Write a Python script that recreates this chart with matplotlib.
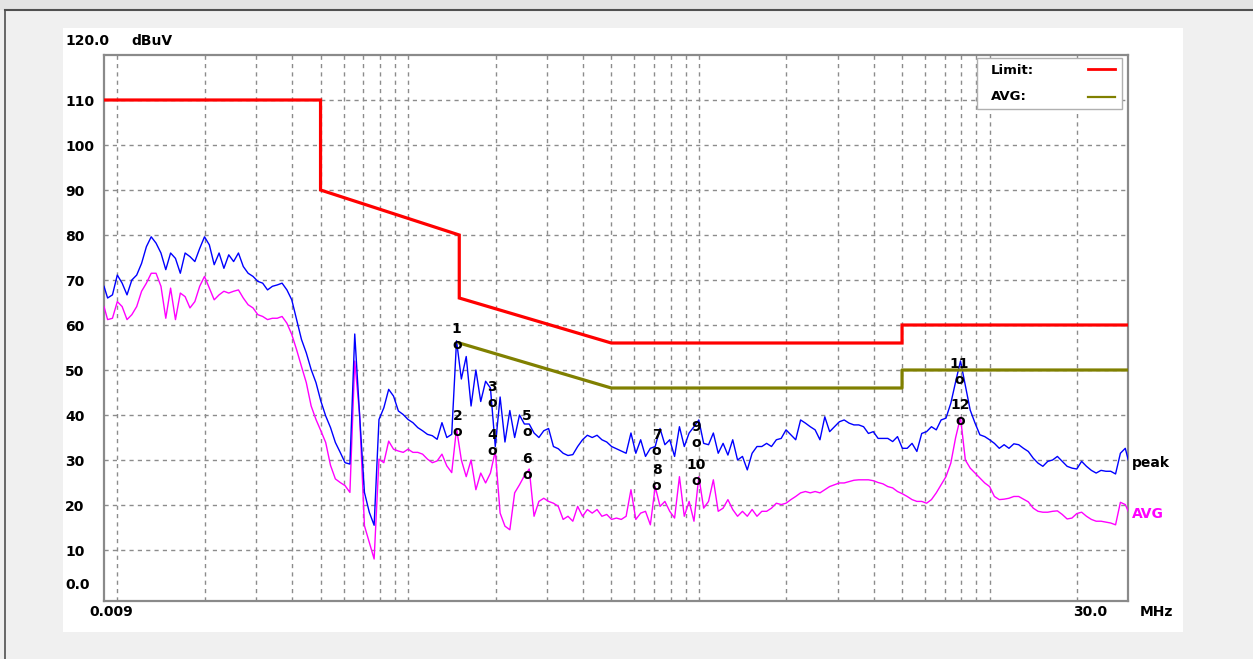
import matplotlib
matplotlib.use("Agg")
import matplotlib.pyplot as plt
from matplotlib.patches import Rectangle
from matplotlib.lines import Line2D
from matplotlib.ticker import NullLocator

# ---------------- data ----------------
freq_mhz = [0.009, 0.009261, 0.009624,
    0.01, 0.01039, 0.0108, 0.01122, 0.01166, 0.01212, 0.01259, 0.01308, 0.01359, 0.01413,
    0.01468, 0.01525, 0.01585, 0.01647, 0.01711, 0.01778, 0.01848, 0.0192, 0.01995, 0.02073,
    0.02154, 0.02239, 0.02326, 0.02417, 0.02512, 0.0261, 0.02712, 0.02818, 0.02929, 0.03043,
    0.03162, 0.03286, 0.03415, 0.03548, 0.03687, 0.03831, 0.03981, 0.04137, 0.04299, 0.04467,
    0.04642, 0.04823, 0.05012, 0.05208, 0.05412, 0.05623, 0.05843, 0.06072, 0.0631, 0.06556,
    0.06813, 0.07079, 0.07356, 0.07644, 0.07943, 0.08254, 0.08577, 0.08913, 0.09261, 0.09624,
    0.1, 0.1039, 0.108, 0.1122, 0.1166, 0.1212, 0.1259, 0.1308, 0.1359, 0.1413,
    0.1468, 0.1525, 0.1585, 0.1647, 0.1711, 0.1778, 0.1848, 0.192, 0.1995, 0.2073,
    0.2154, 0.2239, 0.2326, 0.2417, 0.2512, 0.261, 0.2712, 0.2818, 0.2929, 0.3043,
    0.3162, 0.3286, 0.3415, 0.3548, 0.3687, 0.3831, 0.3981, 0.4137, 0.4299, 0.4467,
    0.4642, 0.4823, 0.5012, 0.5208, 0.5412, 0.5623, 0.5843, 0.6072, 0.631, 0.6556,
    0.6813, 0.7079, 0.7356, 0.7644, 0.7943, 0.8254, 0.8577, 0.8913, 0.9261, 0.9624,
    1.0, 1.039, 1.08, 1.122, 1.166, 1.212, 1.259, 1.308, 1.359, 1.413,
    1.468, 1.525, 1.585, 1.647, 1.711, 1.778, 1.848, 1.92, 1.995, 2.073,
    2.154, 2.239, 2.326, 2.417, 2.512, 2.61, 2.712, 2.818, 2.929, 3.043,
    3.162, 3.286, 3.415, 3.548, 3.687, 3.831, 3.981, 4.137, 4.299, 4.467,
    4.642, 4.823, 5.012, 5.208, 5.412, 5.623, 5.843, 6.072, 6.31, 6.556,
    6.813, 7.079, 7.356, 7.644, 7.943, 8.254, 8.577, 8.913, 9.261, 9.624,
    10.0, 10.39, 10.8, 11.22, 11.66, 12.12, 12.59, 13.08, 13.59, 14.13,
    14.68, 15.25, 15.85, 16.47, 17.11, 17.78, 18.48, 19.2, 19.95, 20.73,
    21.54, 22.39, 23.26, 24.17, 25.12, 26.1, 27.12, 28.18, 29.29,
    30.0]

peak_dbuv = [68.6, 66, 66.7,
    71.1, 69.3, 66.7, 70, 71.1, 73.7, 77.4, 79.6, 78.2, 76,
    72.3, 76, 74.8, 71.5, 76, 75.2, 74.1, 77, 79.6, 77.8,
    73.4, 76, 72.6, 75.6, 74.1, 76, 73, 71.5, 70.8, 69.7,
    69.3, 67.8, 68.6, 68.9, 69.3, 67.8, 65.6, 61.2, 56.8, 53.8,
    50.1, 47.2, 43.1, 39.8, 37.2, 33.9, 31.7, 29.4, 29.1, 58,
    40, 22.8, 18.4, 15.5, 39, 41.6, 45.7, 44.2, 40.9, 40.1,
    39, 38.3, 37.2, 36.5, 35.7, 35.4, 34.6, 38.3, 35, 35.7,
    56.5, 48, 53, 42, 50, 43, 47.5, 46, 33, 44,
    34, 41, 35, 40, 38, 38, 36, 35, 36.5, 37,
    33, 32.5, 31.5, 31, 31.2, 33, 34.5, 35.5, 35, 35.5,
    34.5, 34, 33, 32.5, 32, 31.5, 36, 31.5, 34.5, 30.8,
    32.6, 33, 37, 33.4, 34.5, 30.8, 37.4, 33, 36, 37.4,
    38.9, 33.7, 33.4, 36, 31.5, 33.7, 31.1, 34.5, 30, 30.8,
    27.8, 31.5, 33, 33, 33.7, 33, 34.5, 34.8, 36.7, 35.6,
    34.5, 38.9, 38.2, 37.4, 36.7, 34.5, 39.6, 36.3, 37.4, 38.5,
    38.9, 38.2, 37.8, 37.8, 37.4, 35.9, 36.3, 34.8, 34.8, 34.8,
    34.1, 35.2, 32.6, 32.6, 33.7, 31.9, 35.9, 36.3, 37.4, 36.7,
    38.9, 39.3, 42.6, 47.4, 52, 46.6, 41.1, 38.2, 35.6, 35.2,
    34.5, 33.7, 32.6, 33.4, 32.6, 33.6, 33.4, 32.6, 31.9, 30.4,
    29.3, 28.6, 29.7, 30, 30.8, 29.7, 28.6, 28.2, 28, 29.7,
    28.6, 27.7, 27.1, 27.7, 27.5, 27.5, 26.9, 31.5, 32.6,
    30]

avg_dbuv = [64.1, 61.2, 61.5,
    65.2, 64.1, 61.2, 62.3, 64.1, 67.5, 69.3, 71.5, 71.5, 68.6,
    61.5, 68.2, 61.2, 67.1, 66.3, 63.8, 65.2, 68.6, 70.8, 68.2,
    65.6, 66.7, 67.5, 67.1, 67.5, 67.8, 66, 64.5, 63.8, 62.3,
    61.9, 61.2, 61.5, 61.5, 61.9, 60.4, 57.9, 54.5, 50.8, 47.2,
    42, 39, 36.5, 33.9, 28.8, 25.8, 25, 24.3, 22.8, 52,
    40, 15.4, 11.7, 8, 30.2, 29.4, 34.2, 32.4, 32, 31.7,
    32.4, 31.7, 31.7, 31.3, 30.2, 29.4, 29.8, 31.3, 28.7, 27.2,
    37, 30, 26.3, 30, 23.4, 27.1, 24.9, 27.1, 32, 18.2,
    15.3, 14.5, 22.7, 24.5, 26.5, 28, 17.5, 20.8, 21.5, 20.8,
    20.4, 19.7, 16.8, 17.5, 16.4, 19.7, 17.5, 19, 18.2, 19,
    17.5, 17.9, 16.8, 17.1, 16.8, 17.5, 23.4, 16.8, 18.2, 18.6,
    15.6, 24.1, 19.7, 20.8, 18.6, 17.1, 26.3, 17.5, 20.8, 16.4,
    26.3, 19.3, 20.8, 25.6, 18.6, 19.3, 21.2, 19, 17.5, 18.6,
    17.5, 19, 17.5, 18.6, 18.6, 19.3, 20.4, 20.1, 20.4, 21.2,
    21.9, 22.7, 23, 22.7, 23, 22.7, 23.4, 24.1, 24.5, 24.9,
    24.9, 25.2, 25.5, 25.6, 25.6, 25.6, 25.4, 25, 24.7, 24.1,
    23.8, 23, 22.5, 21.9, 21.2, 20.8, 20.8, 20.4, 21.2, 22.7,
    24.5, 26.3, 29.3, 35, 39.5, 30, 28.2, 27.1, 26, 24.9,
    24.1, 21.9, 21.2, 21.3, 21.5, 21.9, 21.9, 21.3, 20.7, 19.3,
    18.6, 18.4, 18.4, 18.6, 18.7, 17.9, 16.9, 17.1, 18.1, 18.4,
    17.5, 16.8, 16.4, 16.4, 16.2, 16, 15.6, 20.6, 20.1,
    18.6]

limit_freq = [0.009, 0.05, 0.05, 0.15, 0.15, 0.5, 5.0, 5.0, 30.0]
limit_dbuv = [110, 110, 90, 80, 66, 56, 56, 60, 60]
avg_limit_freq = [0.15, 0.5, 5.0, 5.0, 30.0]
avg_limit_dbuv = [56, 46, 46, 50, 50]

marker_ids = ["1", "2", "3", "4", "5", "6", "7", "8", "9", "10", "11", "12"]
marker_freq = [0.147, 0.148, 0.195, 0.195, 0.256, 0.256, 0.716, 0.716, 0.976, 0.976, 7.85, 7.9]
marker_dbuv = [55.6, 36.2, 42.7, 32.0, 36.2, 26.7, 32.0, 24.2, 33.8, 25.3, 47.8, 38.7]

y_ticks = [10, 20, 30, 40, 50, 60, 70, 80, 90, 100, 110]
y_tick_labels = ["10", "20", "30", "40", "50", "60", "70", "80", "90", "100", "110"]
grid_freqs = [m * d for d in (0.01, 0.1, 1.0, 10.0) for m in range(1, 10) if 0.009 < m * d < 29]

# ---------------- layout ----------------
W, H = 1253, 659
def fx(x):
    return x / W
def fy(y):
    return 1 - y / H

fig = plt.figure(figsize=(W / 100, H / 100), dpi=100, facecolor="#f0f0f0")

# window decorations / white panel
fig.add_artist(Rectangle((0, fy(10)), 1, 10 / H, transform=fig.transFigure,
                         facecolor="#e4e4e4", edgecolor="none", zorder=-2))
fig.add_artist(Rectangle((fx(63), fy(632)), (1183 - 63) / W, (632 - 28) / H,
                         transform=fig.transFigure, facecolor="white",
                         edgecolor="none", zorder=-1))
fig.add_artist(Line2D([fx(5), 1], [fy(10), fy(10)], transform=fig.transFigure,
                      color="#505050", lw=1.5, zorder=-1))
fig.add_artist(Line2D([fx(5), fx(5)], [fy(10), 0], transform=fig.transFigure,
                      color="#505050", lw=1.2, zorder=-1))

ax = fig.add_axes([fx(104), fy(601), (1128.3 - 104) / W, (601 - 55) / H])
ax.set_facecolor("white")
ax.set_xscale("log")
ax.set_xlim(0.009, 30)
ax.set_ylim(-1.33, 120)

for s in ax.spines.values():
    s.set_color("#8a8a8a")
    s.set_linewidth(1.6)

grid_kw = dict(color="#8c8c8c", lw=1.0, linestyle=(0, (3, 3)), zorder=1)
for gf in grid_freqs:
    ax.axvline(gf, **grid_kw)
for gy in y_ticks:
    ax.axhline(gy, **grid_kw)

ax.xaxis.set_major_locator(NullLocator())
ax.xaxis.set_minor_locator(NullLocator())
ax.set_yticks(y_ticks)
ax.set_yticklabels(y_tick_labels)
ax.yaxis.set_minor_locator(NullLocator())
ax.tick_params(axis="y", length=0, pad=28)
for lab in ax.get_yticklabels():
    lab.set_horizontalalignment("left")
    lab.set_fontweight("bold")
    lab.set_fontsize(10)

# traces
ax.plot(freq_mhz, avg_dbuv, color="#ff00ff", lw=1.0, zorder=3)
ax.plot(freq_mhz, peak_dbuv, color="#0000ff", lw=1.0, zorder=4)
ax.plot(limit_freq, limit_dbuv, color="#ff0000", lw=2.3, zorder=5,
        solid_joinstyle="miter")
ax.plot(avg_limit_freq, avg_limit_dbuv, color="#808000", lw=2.3, zorder=5)

# markers
for mid, mf, mv in zip(marker_ids, marker_freq, marker_dbuv):
    ax.text(mf, mv, "o", ha="center", va="center", fontsize=10,
            fontweight="bold", color="black", zorder=6)
    ax.annotate(mid, (mf, mv), xytext=(0, 11.5), textcoords="offset points",
                ha="center", va="center", fontsize=10, fontweight="bold",
                color="black", zorder=6)

# legend box
fig.add_artist(Rectangle((fx(977), fy(109)), (1122 - 977) / W, (109 - 58) / H,
                         transform=fig.transFigure, facecolor="white",
                         edgecolor="#b0b0b0", lw=1.0, zorder=2))
fig.text(fx(991), fy(70), "Limit:", fontsize=9.5, fontweight="bold",
         va="center", ha="left", zorder=3)
fig.text(fx(991), fy(96), "AVG:", fontsize=9.5, fontweight="bold",
         va="center", ha="left", zorder=3)
fig.add_artist(Line2D([fx(1088), fx(1115)], [fy(69), fy(69)], transform=fig.transFigure,
                      color="#ff0000", lw=2.0, zorder=3))
fig.add_artist(Line2D([fx(1088), fx(1115)], [fy(97), fy(97)], transform=fig.transFigure,
                      color="#808000", lw=1.6, zorder=3))

# axis texts
txt_kw = dict(fontsize=10, fontweight="bold", color="black")
fig.text(fx(65), fy(41), "120.0", ha="left", va="center", **txt_kw)
fig.text(fx(131), fy(41), "dBuV", ha="left", va="center", **txt_kw)
fig.text(fx(65), fy(585), "0.0", ha="left", va="center", **txt_kw)
fig.text(fx(111), fy(612), "0.009", ha="center", va="center", **txt_kw)
fig.text(fx(1090), fy(612), "30.0", ha="center", va="center", **txt_kw)
fig.text(fx(1140), fy(612), "MHz", ha="left", va="center", **txt_kw)
fig.text(fx(1132), fy(463), "peak", ha="left", va="center", **txt_kw)
fig.text(fx(1132), fy(514), "AVG", ha="left", va="center", fontsize=10,
         fontweight="bold", color="#ff00ff")

fig.savefig("out.png", dpi=100, facecolor=fig.get_facecolor())
